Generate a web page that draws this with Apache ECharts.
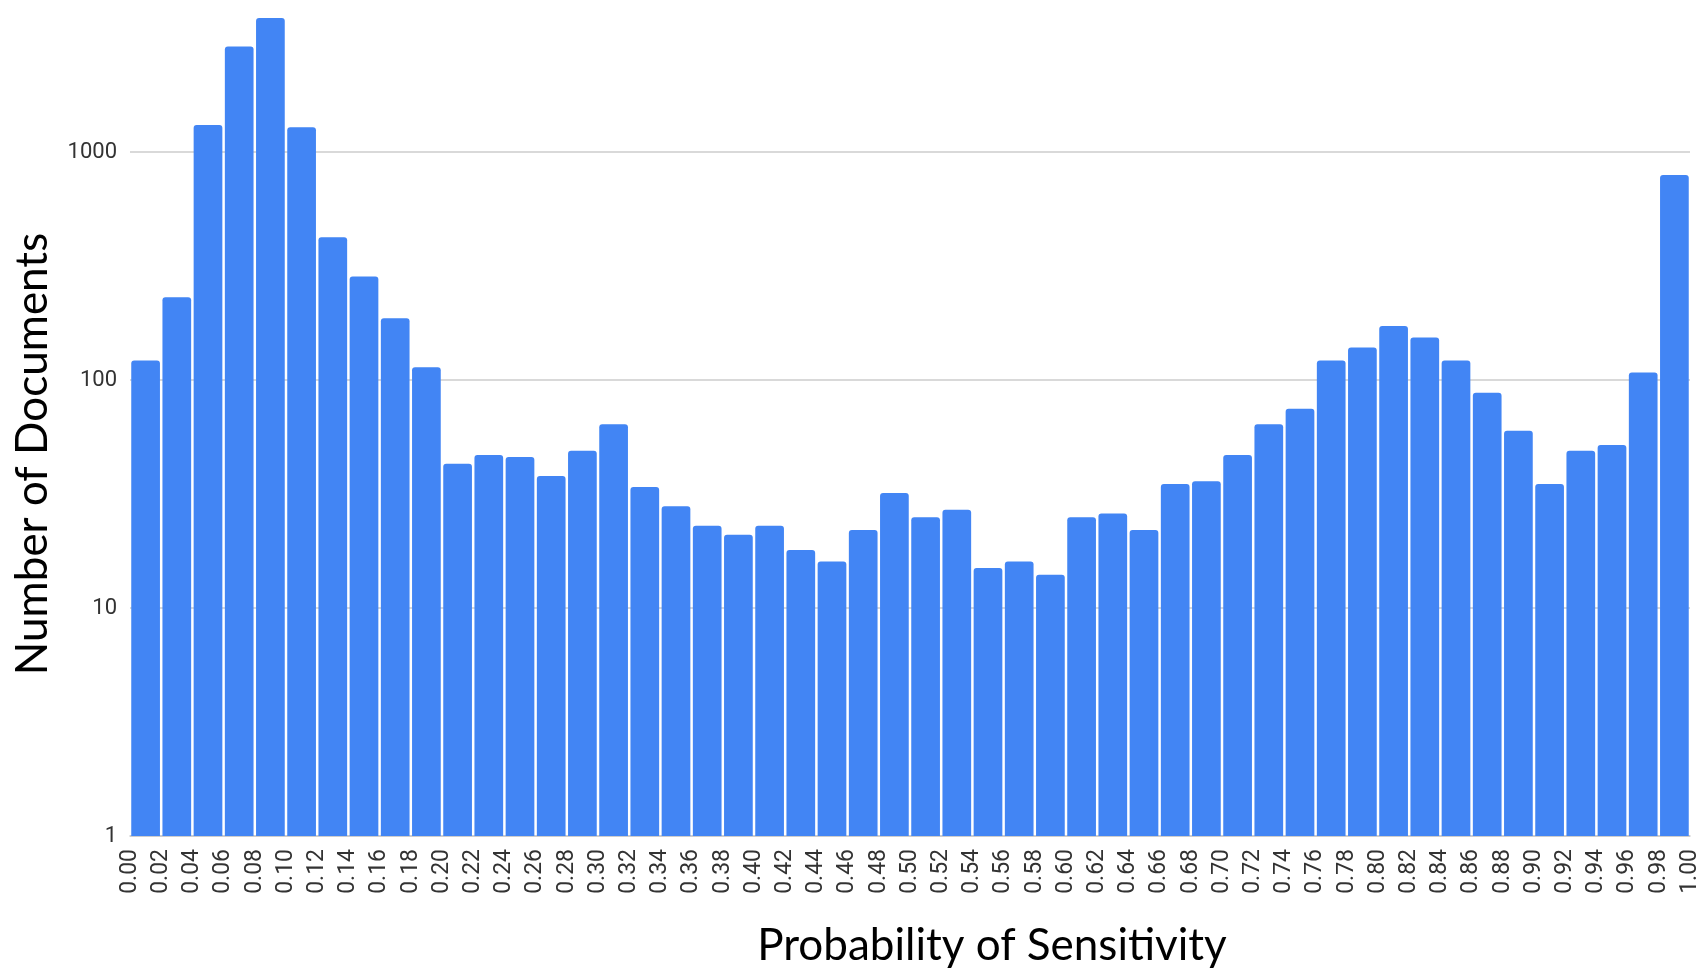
<!DOCTYPE html>
<html>
<head>
<meta charset="utf-8">
<script src="https://cdn.jsdelivr.net/npm/echarts@6/dist/echarts.min.js"></script>
<style>
  html, body { margin: 0; padding: 0; background: #fff; }
  #chart { width: 1708px; height: 971px; }
</style>
</head>
<body>
<div id="chart"></div>
<script>
// Tick labels at bin edges
const tickLabels = ['0.00','0.02','0.04','0.06','0.08','0.10','0.12','0.14','0.16','0.18',
  '0.20','0.22','0.24','0.26','0.28','0.30','0.32','0.34','0.36','0.38',
  '0.40','0.42','0.44','0.46','0.48','0.50','0.52','0.54','0.56','0.58',
  '0.60','0.62','0.64','0.66','0.68','0.70','0.72','0.74','0.76','0.78',
  '0.80','0.82','0.84','0.86','0.88','0.90','0.92','0.94','0.96','0.98','1.00'];

// Number of documents per bin (bin starts at tickLabels[i])
const documentCounts = [122, 231, 1318, 2911, 3880, 1288, 424, 285, 187, 114,
  43, 47, 46, 38, 49, 64, 34, 28, 23, 21,
  23, 18, 16, 22, 32, 25, 27, 15, 16, 14,
  25, 26, 22, 35, 36, 47, 64, 75, 122, 139,
  173, 154, 122, 88, 60, 35, 49, 52, 108, 794];

const yTickLabels = ['1', '10', '100', '1000'];

const xTitle = 'Probability of Sensitivity';
const yTitle = 'Number of Documents';

const barData = documentCounts.map((v, i) => [
  (parseFloat(tickLabels[i]) + parseFloat(tickLabels[i + 1])) / 2, v
]);

const chart = echarts.init(document.getElementById('chart'), null, { renderer: 'canvas' });
chart.setOption({
  backgroundColor: '#ffffff',
  animation: false,
  grid: { left: 130, right: 18, top: 15, bottom: 135, containLabel: false, outerBoundsMode: 'none' },
  graphic: [
    {
      type: 'text',
      x: 992, y: 946,
      style: {
        text: xTitle,
        fontFamily: 'Lato', fontSize: 44, fill: '#000',
        align: 'center', verticalAlign: 'middle'
      }
    },
    {
      type: 'text',
      x: 33, y: 454,
      rotation: Math.PI / 2,
      style: {
        text: yTitle,
        fontFamily: 'Lato', fontSize: 44, fill: '#000',
        align: 'center', verticalAlign: 'middle'
      }
    }
  ],
  xAxis: {
    type: 'value',
    min: 0, max: 1, interval: 0.02,
    axisLine: { show: true, lineStyle: { color: '#c9c9c9', width: 1.5 } },
    axisTick: { show: false },
    splitLine: { show: false },
    axisLabel: {
      rotate: 90,
      fontFamily: 'Roboto',
      fontSize: 23,
      color: '#333',
      margin: 13,
      formatter: function (v) {
        const idx = Math.round(v / 0.02);
        return tickLabels[idx] !== undefined ? tickLabels[idx] : '';
      }
    }
  },
  yAxis: {
    type: 'log',
    logBase: 10,
    min: 1, max: 4000,
    axisLine: { show: false },
    axisTick: { show: false },
    axisLabel: {
      fontFamily: 'Roboto',
      fontSize: 22,
      color: '#333',
      margin: 13,
      formatter: function (v) {
        const s = String(Math.round(v));
        return yTickLabels.indexOf(s) >= 0 ? s : '';
      }
    },
    splitLine: {
      show: true,
      lineStyle: { color: ['#cccccc', '#cccccc', '#cccccc', '#cccccc', 'rgba(0,0,0,0)'], width: 1.5 }
    }
  },
  series: [{
    type: 'bar',
    data: barData,
    barWidth: '92%',
    itemStyle: { color: '#4285F4', borderRadius: [3, 3, 0, 0] }
  }]
});
</script>
</body>
</html>
